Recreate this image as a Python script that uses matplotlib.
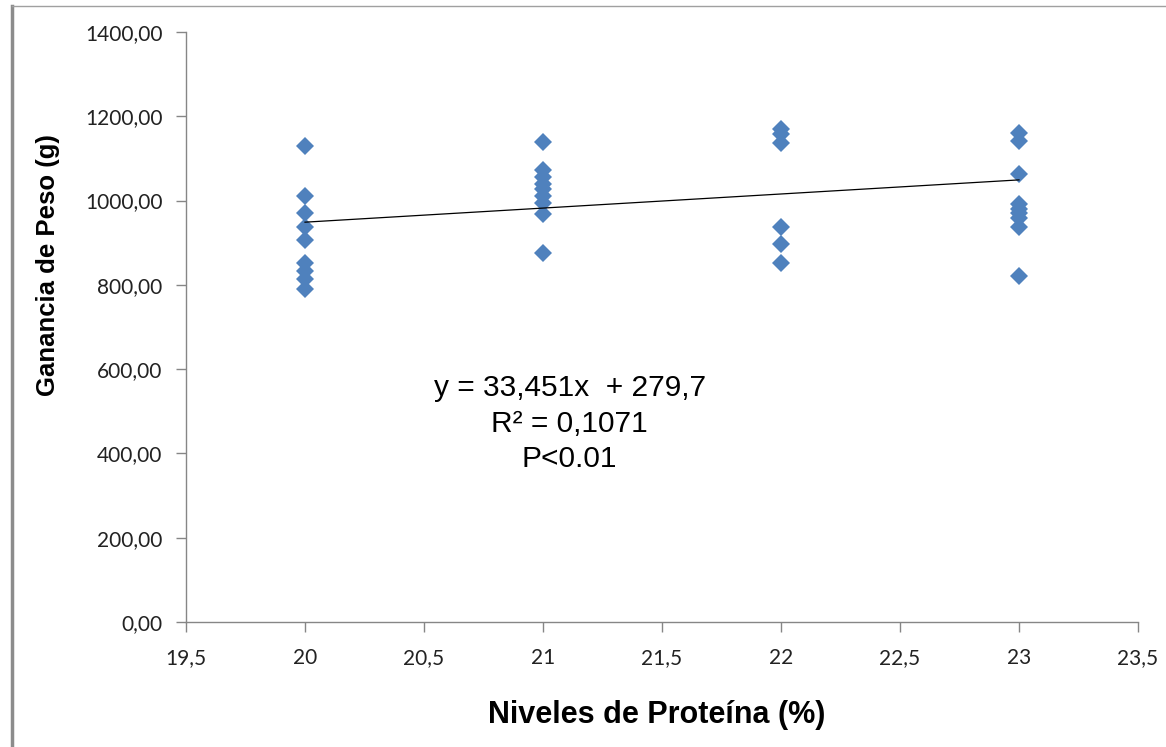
import matplotlib.pyplot as plt
from matplotlib.ticker import FuncFormatter
from matplotlib.lines import Line2D

# Niveles de proteina (%) y ganancia de peso (g)
prot_20 = [1130, 1010, 970, 938, 906, 853, 832, 814, 791]
prot_21 = [1138, 1072, 1056, 1040, 1028, 1010, 995, 967, 876]
prot_22 = [1170, 1157, 1137, 938, 897, 853]
prot_23 = [1160, 1141, 1064, 992, 981, 970, 959, 938, 821]
niveles = [20, 21, 22, 23]

# Linea de tendencia (ecuacion mostrada en el grafico)
slope = 33.451
intercept = 279.7
trend_x = [20, 23]

x_ticks = [19.5, 20, 20.5, 21, 21.5, 22, 22.5, 23, 23.5]
y_ticks = [0, 200, 400, 600, 800, 1000, 1200, 1400]

MARKER_color = '#4F81BD'
AXIS_color = '#868686'

fig = plt.figure(figsize=(11.66, 7.47), dpi=100)
ax = fig.add_axes([186/1166, 1 - 622/747, 952/1166, 590/747])

groups = [prot_20, prot_21, prot_22, prot_23]
for lvl, vals in zip(niveles, groups):
    ax.plot([lvl]*len(vals), vals, linestyle='none', marker='D', markersize=9.5,
            color=MARKER_color, markeredgewidth=0, zorder=3)

trend_y = [slope*x + intercept for x in trend_x]
ax.plot(trend_x, trend_y, color='black', linewidth=0.9, zorder=4)

ax.set_xlim(19.5, 23.5)
ax.set_ylim(0, 1400)
ax.set_xticks(x_ticks)
ax.set_yticks(y_ticks)

def fmt_x(v, pos):
    if float(v).is_integer():
        return '%d' % v
    return ('%.1f' % v).replace('.', ',')

def fmt_y(v, pos):
    return ('%.2f' % v).replace('.', ',')

ax.xaxis.set_major_formatter(FuncFormatter(fmt_x))
ax.yaxis.set_major_formatter(FuncFormatter(fmt_y))

for s in ['top', 'right']:
    ax.spines[s].set_visible(False)
for s in ['left', 'bottom']:
    ax.spines[s].set_color(AXIS_color)
    ax.spines[s].set_linewidth(1)
ax.tick_params(direction='out', length=7, width=1, color=AXIS_color,
               labelsize=15, labelcolor='#222222')
ax.tick_params(axis='x', pad=12)
ax.tick_params(axis='y', pad=10)
for lab in ax.get_xticklabels() + ax.get_yticklabels():
    lab.set_family('Lato')

ax.text(0.403, 0.336, 'y = 33,451x  + 279,7\nR\u00b2 = 0,1071\nP<0.01',
        transform=ax.transAxes, ha='center', va='center', multialignment='center',
        fontsize=21.5, family='Liberation Sans', linespacing=1.35)

fig.text(48/1166, 1 - 265/747, 'Ganancia de Peso (g)', rotation=90, ha='center', va='center',
         fontsize=18.5, fontweight='bold', family='Liberation Sans')
fig.text(657/1166, 1 - 715/747, 'Niveles de Proteína (%)', ha='center', va='center',
         fontsize=22, fontweight='bold', family='Liberation Sans')

# borde del area del grafico
fig.add_artist(Line2D([12/1166, 12/1166], [0, 1 - 6/747], transform=fig.transFigure,
                      color='#8C8C8C', linewidth=2.5))
fig.add_artist(Line2D([12/1166, 1], [1 - 6/747, 1 - 6/747], transform=fig.transFigure,
                      color='#A0A0A0', linewidth=1))

plt.savefig('out.png', dpi=100)
